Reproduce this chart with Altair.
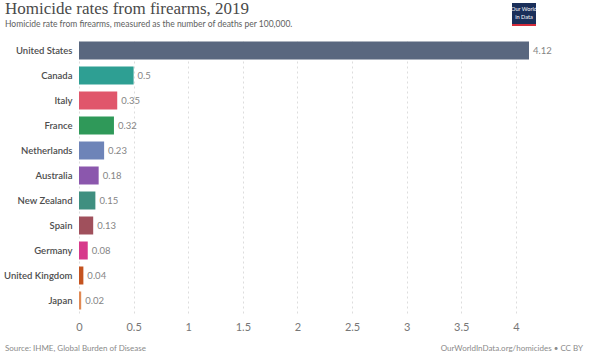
import altair as alt
import pandas as pd

countries = ["United States", "Canada", "Italy", "France", "Netherlands", "Australia",
             "New Zealand", "Spain", "Germany", "United Kingdom", "Japan"]
rates = [4.12, 0.5, 0.35, 0.32, 0.23, 0.18, 0.15, 0.13, 0.08, 0.04, 0.02]
colors = ["#59677f", "#2e9f93", "#e0566b", "#2f9959", "#6e84b8", "#8b57ad",
          "#3f8f80", "#a0505c", "#d7398b", "#c4531f", "#e08a55"]
labels = ["4.12", "0.5", "0.35", "0.32", "0.23", "0.18", "0.15", "0.13", "0.08", "0.04", "0.02"]
tick_values = [0, 0.5, 1, 1.5, 2, 2.5, 3, 3.5, 4]

title = "Homicide rates from firearms, 2019"
subtitle = "Homicide rate from firearms, measured as the number of deaths per 100,000."
source = "Source: IHME, Global Burden of Disease"
credit = "OurWorldInData.org/homicides • CC BY"

df = pd.DataFrame({"country": countries, "rate": rates, "color": colors, "label": labels})

FONT = "Lato"
W, H = 450, 275

y_enc = alt.Y("country:N", sort=countries, title=None,
              scale=alt.Scale(paddingInner=0.28, paddingOuter=0.14),
              axis=alt.Axis(labelFont=FONT, labelFontSize=9.5, labelFontWeight=600,
                            labelColor="#4d4d4d", ticks=False, domain=False,
                            labelPadding=7, grid=False))
x_enc = alt.X("rate:Q", title=None,
              scale=alt.Scale(domain=[0, 4.12], nice=False),
              axis=alt.Axis(values=tick_values, format="~g", labelFont=FONT, labelFontSize=11,
                            labelColor="#777777", ticks=False, domain=False,
                            grid=True, gridDash=[2, 3], gridColor="#dddddd",
                            labelPadding=8, labelFlush=False))

bars = alt.Chart(df).mark_bar().encode(
    y=y_enc, x=x_enc,
    color=alt.Color("color:N", scale=None),
)
texts = alt.Chart(df).mark_text(align="left", dx=4, font=FONT, fontSize=9.5,
                                color="#858585").encode(
    y=alt.Y("country:N", sort=countries), x="rate:Q", text="label:N")

def txt(s, x, y, **kw):
    return alt.Chart(pd.DataFrame({"t": [s]})).mark_text(**kw).encode(
        x=alt.value(x), y=alt.value(y), text="t:N")

t1 = txt(title, -74, -29, align="left", baseline="middle", font="Liberation Serif",
         fontSize=17, color="#4a4a4a")
t2 = txt(subtitle, -74, -14, align="left", baseline="middle", font=FONT,
         fontSize=8.5, color="#5e5e5e")
f1 = txt(source, -74, 311, align="left", baseline="middle", font=FONT,
         fontSize=8, color="#8a8a8a")
f2 = txt(credit, 504, 311, align="right", baseline="middle", font=FONT,
         fontSize=8, color="#8a8a8a")

logo_bg = alt.Chart(pd.DataFrame({"a": [0]})).mark_rect(color="#1a2f5a").encode(
    x=alt.value(433), x2=alt.value(457), y=alt.value(-35), y2=alt.value(-14))
logo_red = alt.Chart(pd.DataFrame({"a": [0]})).mark_rect(color="#d42b3a").encode(
    x=alt.value(433), x2=alt.value(457), y=alt.value(-14), y2=alt.value(-12))
l1 = txt("Our World", 445, -29, align="center", baseline="middle", font=FONT,
         fontSize=5.6, color="white")
l2 = txt("in Data", 445, -21, align="center", baseline="middle", font=FONT,
         fontSize=5.6, color="white")

chart = alt.layer(bars, texts, t1, t2, f1, f2, logo_bg, logo_red, l1, l2).properties(
    width=W, height=H,
    autosize=alt.AutoSizeParams(type="none"),
    padding={"left": 79, "top": 38, "right": 64, "bottom": 40},
    background="white",
).configure_view(stroke=None)

chart.save("out.html", embed_options={"renderer": "svg", "actions": False})
